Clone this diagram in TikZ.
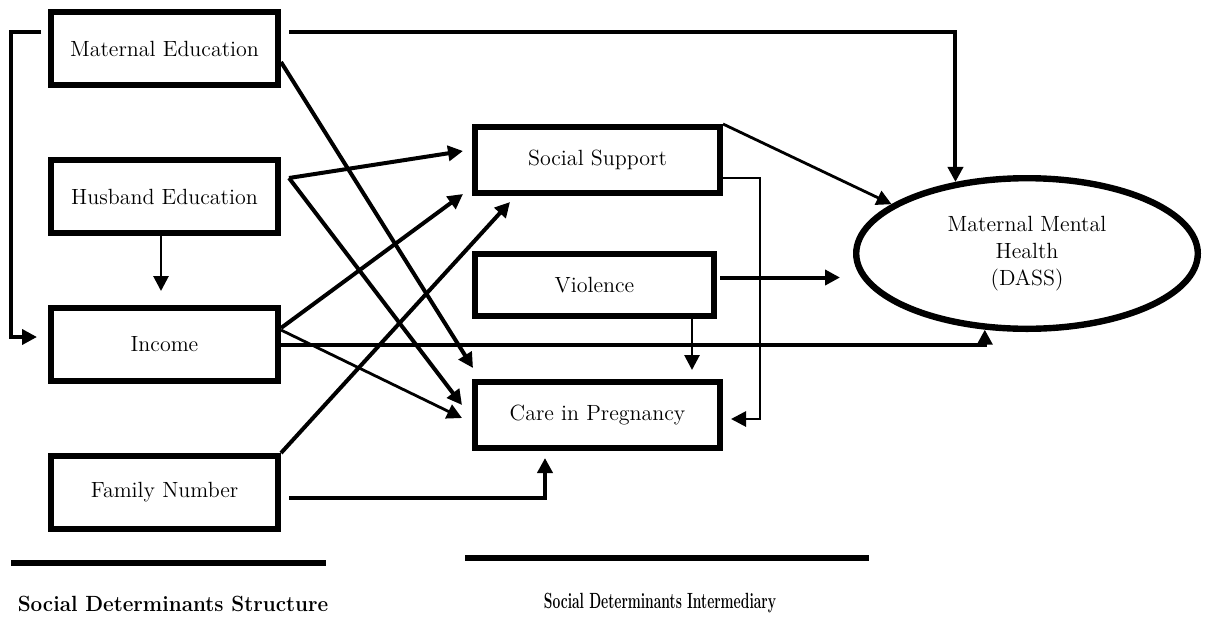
\documentclass[tikz,border=0pt]{standalone}
\usepackage{tikz}
\usetikzlibrary{arrows.meta, positioning, shapes.geometric}

\begin{document}
\begin{tikzpicture}[x=0.5pt, y=-0.5pt, node distance=74pt,
    box/.style={draw, line width=3.2pt, minimum width=113.3pt, minimum height=36.3pt,
      inner sep=0pt, font=\fontsize{11}{13}\selectfont},
    outcome/.style={draw, ellipse, line width=3.2pt, minimum width=170.8pt,
      minimum height=75.3pt, inner sep=0pt, align=center, font=\fontsize{11}{13.5}\selectfont},
    link/.style={line width=2pt, -{Triangle[length=7.5pt, width=7.5pt]}},
    thin link/.style={link, line width=1.4pt},
    rule/.style={line width=3.2pt},
    caption/.style={font=\fontsize{11}{13}\selectfont\bfseries}]
\useasboundingbox (0,0) rectangle (1219,616);

% structural determinants
\node[box] (mat) at (164.5,48.5) {Maternal Education};
\node[box, below of=mat] (hus) {Husband Education};
\node[box, below of=hus] (inc) {Income};
\node[box, below of=inc] (fam) {Family Number};

% intermediary determinants
\node[box, minimum width=122.3pt, minimum height=32.8pt] (soc) at (597.5,160) {Social Support};
\node[box, minimum width=119.3pt, minimum height=30.8pt] (vio) at (594.5,285) {Violence};
\node[box, minimum width=122.3pt, minimum height=32.8pt] (care) at (597.5,415) {Care in Pregnancy};

\node[outcome] (ell) at (1027,253.5) {Maternal Mental\\Health\\(DASS)};

\draw[link] ([shift={(-7,-16.5)}]mat.west) -- ++(-30,0) |- ([shift={(-11,-7.5)}]inc.west);
\draw[link] ([shift={(8,-16.5)}]mat.east) -| (ell.135);
\draw[link] ([shift={(0,13.5)}]mat.east) -- ([shift={(1,-11)}]care.north west);
\draw[link] ([shift={(8,-18.5)}]hus.east) -- ([shift={(-9,-9)}]soc.west);
\draw[link] ([shift={(8,-18.5)}]hus.east) -- ([shift={(-10,-10)}]care.west);
\draw[thin link] ([shift={(-3.5,0)}]hus.south) -- ([shift={(-3.5,-14)}]inc.north);
\draw[link] ([shift={(0,-16.5)}]inc.east) -- ([shift={(-9,-2)}]soc.south west);
\draw[thin link] ([shift={(0,-14.5)}]inc.east) -- ([shift={(-10,3)}]care.west);
\draw[link] (inc.east) -| (ell.241);
\draw[link] (fam.north east) -- ([shift={(38,6)}]soc.south west);
\draw[link] ([shift={(8,5.5)}]fam.east) -| ([shift={(-52.5,7)}]care.south);
\draw[thin link] (soc.north east) -- (ell.160);
\draw[thin link] ([shift={(0,18)}]soc.east) -- ++(37,0) |- ([shift={(8,4)}]care.east);
\draw[link] ([shift={(3,-7.5)}]vio.east) -- ([shift={(-13,24)}]ell.west);
\draw[thin link] ([shift={(97.5,0)}]vio.south) -- ([shift={(94.5,-9)}]care.north);

% group captions
\draw[rule] (11,563) -- (326,563);
\draw[rule] (465,558) -- (869,558);
\node[caption] (structure) at (173,604) {\scalebox{0.94}[1]{Social Determinants Structure}};
\node[caption] (intermediary) at (660,603) {\scalebox{0.63}[1]{Social Determinants Intermediary}};
\end{tikzpicture}
\end{document}
